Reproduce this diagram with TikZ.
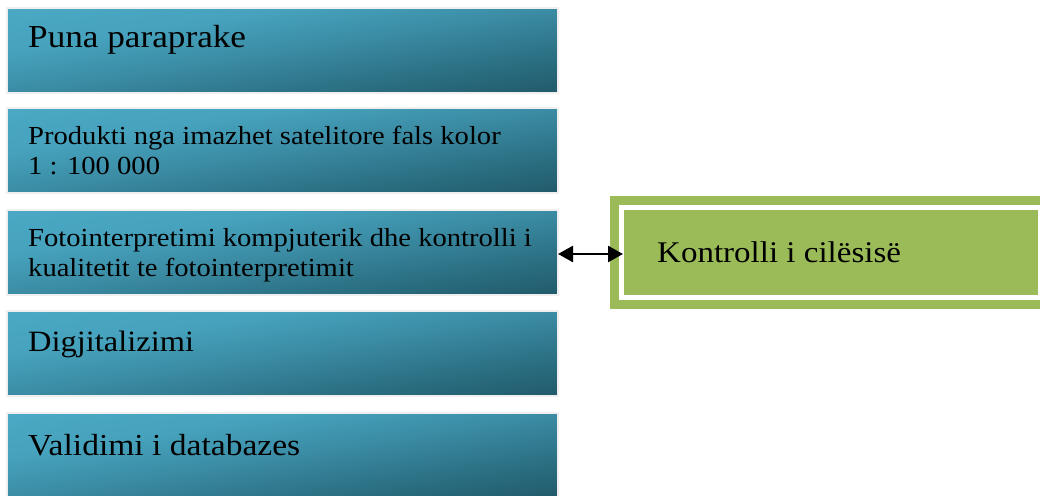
\documentclass[tikz,border=0pt]{standalone}
\usepackage{fontspec}
\setmainfont{Liberation Serif}[FakeStretch=1.1]
\usetikzlibrary{arrows.meta,calc}
\definecolor{boxlight}{HTML}{4BA9C5}
\definecolor{boxlighttwo}{HTML}{46A2BD}
\definecolor{boxmid}{HTML}{3B8CA4}
\definecolor{boxdarktwo}{HTML}{2D7387}
\definecolor{boxdark}{HTML}{215A6A}
\definecolor{boxframe}{HTML}{EFEFEF}
\definecolor{qgreen}{HTML}{9BBB59}
\pgfdeclareverticalshading{boxgrad}{100bp}{color(0bp)=(boxdark); color(25bp)=(boxdark);
  color(38bp)=(boxdarktwo); color(50bp)=(boxmid); color(62bp)=(boxlighttwo);
  color(75bp)=(boxlight); color(100bp)=(boxlight)}
\begin{document}
\begin{tikzpicture}[x=1pt,y=-1pt,
  stepbox/.style={draw=boxframe, line width=2.5pt, minimum width=551, minimum height=85,
    inner sep=0pt, outer sep=0pt, anchor=north west},
  bigtxt/.style={font=\fontsize{31}{36}\selectfont, inner sep=0pt, anchor=base west},
  smalltxt/.style={font=\fontsize{26}{30}\selectfont, inner sep=0pt, anchor=base west, align=left},
  qbox/.style={draw=qgreen, line width=9pt, double=white, double distance=4.5pt, fill=qgreen,
    minimum width=418.5, minimum height=90, inner sep=0pt, outer sep=0pt, anchor=north west},
  link/.style={line width=2.5pt, {Triangle[length=15pt,width=16pt]}-{Triangle[length=15pt,width=16pt]}}
]
\useasboundingbox (0,0) rectangle (1040,495);
\clip (0,0) rectangle (1040,495);
\fill[white] (0,0) rectangle (1040,495);

% diagonal gradient fills: a vertical shading sheared so that its bands run
% from the lower left corner to the upper right corner of each box
\foreach \ty in {8,108,210,311,413}{
  \begin{scope}
    \clip (7,\ty) rectangle ++(551,85);
    \begin{scope}[transform canvas={cm={1,0.15427,0,1,(7,\ty)}}]
      \shade[shading=boxgrad] (0pt,0pt) rectangle (551pt,-170pt);
    \end{scope}
  \end{scope}
}

\node[stepbox] (b1) at (7,8) {};
\node[stepbox] (b2) at (7,108) {};
\node[stepbox] (b3) at (7,210) {};
\node[stepbox] (b4) at (7,311) {};
\node[stepbox] (b5) at (7,413) {};

\node[bigtxt, font=\fontsize{32}{36}\selectfont] (t1) at ([shift={(21,40)}]b1.north west) {Puna paraprake};
\node[smalltxt] (t2) at ([shift={(21,66)}]b2.north west) {Produkti nga imazhet satelitore fals kolor\\1 : 100 000};
\node[smalltxt] (t3) at ([shift={(21,66)}]b3.north west) {Fotointerpretimi kompjuterik dhe kontrolli i\\kualitetit te fotointerpretimit};
\node[bigtxt, font=\fontsize{29.5}{36}\selectfont] (t4) at ([shift={(21,40)}]b4.north west) {Digjitalizimi};
\node[bigtxt, font=\fontsize{30.5}{36}\selectfont] (t5) at ([shift={(21,42)}]b5.north west) {Validimi i databazes};

\node[qbox] (g) at (621.5,207.5) {};
\node[bigtxt, font=\fontsize{30}{36}\selectfont] (tg) at ([shift={(35.5,54.5)}]g.north west) {Kontrolli i cilësisë};

\draw[link] ([yshift=-1.5]b3.east) -- ([xshift=1.5,yshift=-1.5]g.west);
\end{tikzpicture}
\end{document}
